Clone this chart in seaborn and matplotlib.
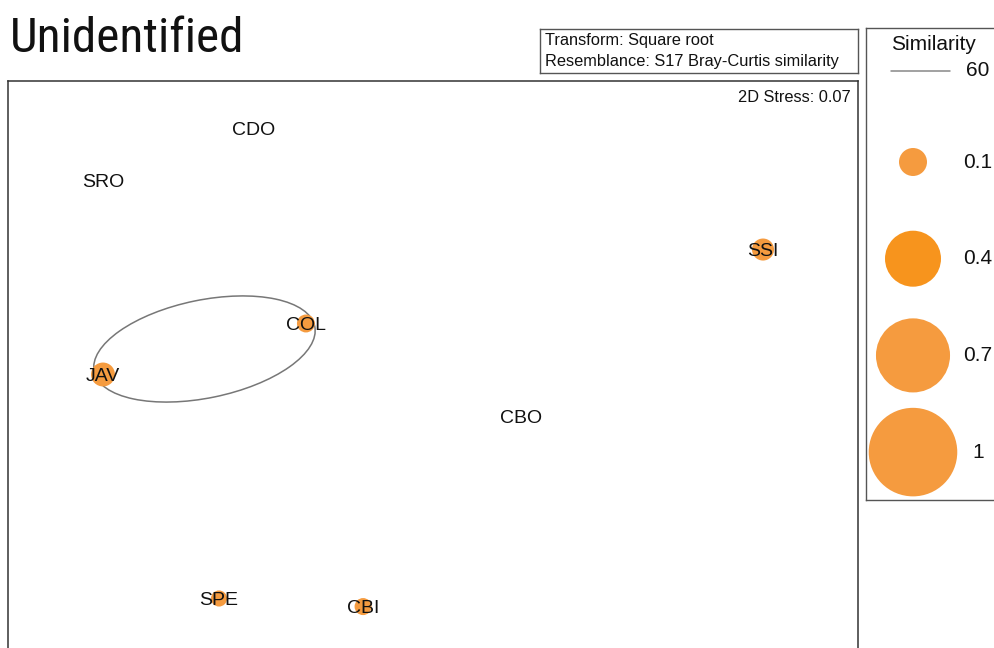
import numpy as np
import pandas as pd
import matplotlib
matplotlib.use('Agg')
import matplotlib.pyplot as plt
from matplotlib import font_manager
from matplotlib.patches import Ellipse
import seaborn as sns

# nMDS ordination
sites = ['CDO', 'SRO', 'SSI', 'COL', 'JAV', 'CBO', 'SPE', 'CBI']
mds_x = [-0.842, -1.553, 1.553, -0.598, -1.553, 0.414, -1.007, -0.329]
mds_y = [0.939, 0.694, 0.369, 0.021, -0.219, -0.416, -1.273, -1.311]
similarity = [0.0, 0.0, 0.062, 0.041, 0.073, 0.0, 0.033, 0.037]
# sites grouped by the 60% similarity contour
group_60 = ['JAV', 'COL']

legend_vals = [0.1, 0.4, 0.7, 1]
legend_labels = ['0.1', '0.4', '0.7', '1']

ORANGE = '#F59B3F'
MAX_AREA = 4064  # marker area (pt^2) for similarity 1

sns.set_style('white')
plt.rcParams['font.family'] = ['Liberation Sans', 'DejaVu Sans']

# a narrow face for the title if there is one
installed = {f.name for f in font_manager.fontManager.ttflist}
title_font, title_size = ['Liberation Sans'], 34
for nm in ['Liberation Sans Narrow', 'Arial Narrow', 'Nimbus Sans Narrow',
           'Roboto Condensed', 'Open Sans Condensed']:
    if nm in installed:
        title_font, title_size = [nm, 'Liberation Sans'], 35.5
        break

df = pd.DataFrame({'site': sites, 'x': mds_x, 'y': mds_y, 'sim': similarity})

fig = plt.figure(figsize=(9.95, 6.48), dpi=100)

# main ordination panel (bottom edge runs off the figure)
ax = fig.add_axes([8/995, -20/648, 850/995, 587/648])
ax.set_xlim(-2, 2)
ax.set_ylim(-1.6, 1.162)
ax.set_xticks([])
ax.set_yticks([])
for s in ax.spines.values():
    s.set_color('#333333')
    s.set_linewidth(1.1)

sns.scatterplot(data=df[df.sim > 0], x='x', y='y', size='sim',
                sizes=(0, MAX_AREA), size_norm=(0, 1), color=ORANGE,
                linewidth=0, legend=False, ax=ax, zorder=2)
ax.set_xlabel('')
ax.set_ylabel('')

for _, r in df.iterrows():
    ax.text(r.x, r.y, r.site, ha='center', va='center_baseline',
            fontsize=14, color='#111111', zorder=3)

# 60% similarity contour around the group
g = df[df.site.isin(group_60)]
p1 = g.iloc[0][['x', 'y']].to_numpy(float)
p2 = g.iloc[1][['x', 'y']].to_numpy(float)
cen = (p1 + p2) / 2
dist = np.hypot(*(p2 - p1))
ang = np.degrees(np.arctan2(*(p2 - p1)[::-1]))
ax.add_patch(Ellipse(cen, dist + 0.075, 0.461, angle=ang - 2.5,
                     fill=False, edgecolor='#777777', linewidth=1.1, zorder=1))

fig.text(851/995, 1 - 98/648, '2D Stress: 0.07', ha='right', va='center',
         fontsize=11.8, color='#111111')

# transform / resemblance box
bx = fig.add_axes([540/995, 1 - 73/648, 318/995, 44/648])
bx.set_xticks([])
bx.set_yticks([])
for s in bx.spines.values():
    s.set_color('#555555')
    s.set_linewidth(1.0)
bx.text(0.015, 0.74, 'Transform: Square root', transform=bx.transAxes,
        ha='left', va='center', fontsize=11.8, color='#111111')
bx.text(0.015, 0.27, 'Resemblance: S17 Bray-Curtis similarity',
        transform=bx.transAxes, ha='left', va='center', fontsize=11.8,
        color='#111111')

# legend panel
lax = fig.add_axes([866/995, 1 - 500/648, 200/995, 472/648])
lax.set_xlim(0, 200)
lax.set_ylim(472, 0)
lax.set_xticks([])
lax.set_yticks([])
for s in lax.spines.values():
    s.set_color('#555555')
    s.set_linewidth(1.0)
lax.text(67, 17, 'Similarity', ha='center', va='center', fontsize=15,
         color='#111111')
lax.plot([25, 84], [43, 43], color='#888888', linewidth=1.1)
lax.text(112, 43, '60', ha='center', va='center', fontsize=15, color='#111111')

ldf = pd.DataFrame({'lab': legend_labels, 'sim': legend_vals,
                    'x': 47, 'y': 134 + 96.7 * np.arange(len(legend_vals))})
sns.scatterplot(data=ldf, x='x', y='y', size='sim', sizes=(0, MAX_AREA),
                size_norm=(0, 1), hue='lab',
                palette=[ORANGE, '#F7941D', ORANGE, ORANGE],
                linewidth=0, legend=False, ax=lax, clip_on=False)
lax.set_xlabel('')
lax.set_ylabel('')
for _, r in ldf.iterrows():
    lax.text(112, r.y, r.lab, ha='center', va='center', fontsize=15,
             color='#111111')

# title
fig.text(10/995, 1 - 52/648, 'Unidentified', ha='left', va='baseline',
         fontsize=title_size, family=title_font, color='#111111')

fig.savefig('out.png', dpi=100)
